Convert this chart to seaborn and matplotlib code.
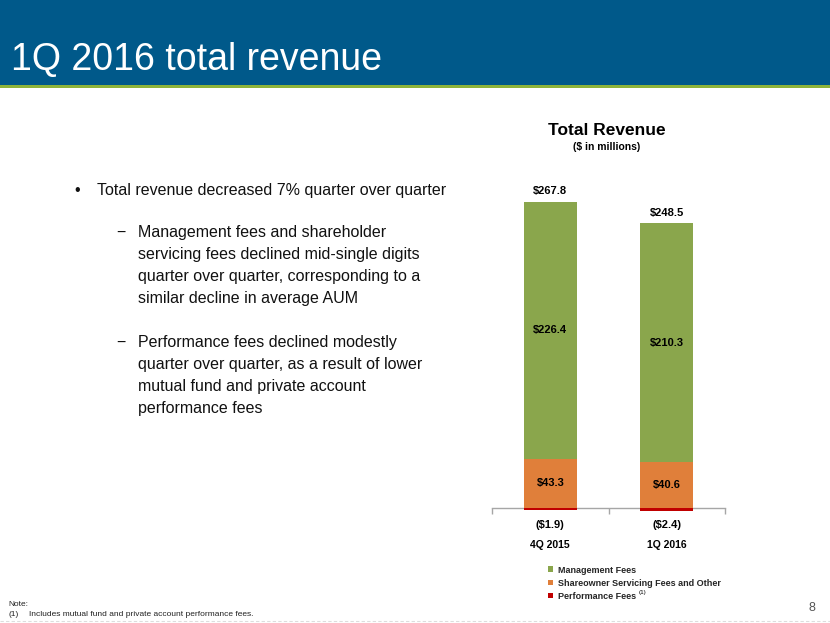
import matplotlib
matplotlib.use("Agg")
import matplotlib.pyplot as plt
import seaborn as sns
import pandas as pd
from matplotlib.patches import Rectangle, Patch

# ---- data ----
categories = ["4Q 2015", "1Q 2016"]
management_fees = [226.4, 210.3]
shareowner_fees = [43.3, 40.6]
performance_fees = [-1.9, -2.4]
totals = [267.8, 248.5]
mgmt_labels = ["$226.4", "$210.3"]
share_labels = ["$43.3", "$40.6"]
perf_labels = ["($1.9)", "($2.4)"]
total_labels = ["$267.8", "$248.5"]
legend_labels = ["Management Fees", "Shareowner Servicing Fees and Other",
                 "Performance Fees"]

GREEN = "#8AA64C"
ORANGE = "#E07F3A"
RED = "#C00000"
HEADER = "#00598A"

sns.set_theme(style="white")
plt.rcParams['font.family'] = ['Liberation Sans', 'DejaVu Sans']

W, H = 830, 623
fig = plt.figure(figsize=(W / 100, H / 100), dpi=100)
fig.patch.set_facecolor("white")

def fx(px):
    return px / W

def fy(py):
    return 1 - py / H

# header band
fig.patches.append(Rectangle((0, fy(85)), 1, 1 - fy(85), transform=fig.transFigure,
                             facecolor=HEADER, edgecolor="none", zorder=0))
fig.patches.append(Rectangle((0, fy(88)), 1, fy(85) - fy(88), transform=fig.transFigure,
                             facecolor="#8DB33A", edgecolor="none", zorder=0))
fig.text(fx(11), fy(70), "1Q 2016 total revenue", color="white", fontsize=27,
         va="baseline", ha="left")

# bullet text
fs = 11.5
fig.text(fx(74), fy(195), "•", fontsize=fs, va="baseline", color="#111111")
fig.text(fx(97), fy(195), "Total revenue decreased 7% quarter over quarter",
         fontsize=fs, va="baseline", color="#111111")
sub1 = ["Management fees and shareholder", "servicing fees declined mid-single digits",
        "quarter over quarter, corresponding to a", "similar decline in average AUM"]
sub2 = ["Performance fees declined modestly", "quarter over quarter, as a result of lower",
        "mutual fund and private account", "performance fees"]
for start, lines in [(237, sub1), (347, sub2)]:
    fig.text(fx(116), fy(start), "\u2212", fontsize=fs, va="baseline", color="#111111")
    for i, ln in enumerate(lines):
        fig.text(fx(138), fy(start + 22 * i), ln, fontsize=fs, va="baseline", color="#111111")

# chart title
fig.text(fx(607), fy(135), "Total Revenue", fontsize=12.5, fontweight="bold",
         ha="center", va="baseline", color="black")
fig.text(fx(607), fy(150), "($ in millions)", fontsize=7.5, fontweight="bold",
         ha="center", va="baseline", color="black")

# axes
scale = 1.135  # px per unit
ymin, ymax = -12, 290
ax_left, ax_right = 492, 725
bottom_px = 508 + (-ymin) * scale
height_px = (ymax - ymin) * scale
ax = fig.add_axes([fx(ax_left), fy(bottom_px), fx(ax_right - ax_left), height_px / H])
ax.set_facecolor("none")

df = pd.DataFrame({"cat": categories, "mgmt": management_fees,
                   "share": shareowner_fees, "perf": performance_fees})
bw = 53 / ((ax_right - ax_left) / 2)
sns.barplot(data=df, x="cat", y="share", color=ORANGE, saturation=1, width=bw, ax=ax,
            linewidth=0)
sns.barplot(data=df, x="cat", y="mgmt", bottom=df["share"], color=GREEN, saturation=1,
            width=bw, ax=ax, linewidth=0)
sns.barplot(data=df, x="cat", y="perf", color=RED, saturation=1, width=bw, ax=ax,
            linewidth=0, zorder=3)

ax.set_xlim(-0.5, 1.5)
ax.set_ylim(ymin, ymax)
for s in ["top", "right", "left"]:
    ax.spines[s].set_visible(False)
ax.spines["bottom"].set_position(("data", 0))
ax.spines["bottom"].set_color("#A6A6A6")
ax.spines["bottom"].set_linewidth(1)
ax.spines["bottom"].set_zorder(0.5)
ax.set_xticks([-0.5, 0.5, 1.5])
ax.set_xticklabels([])
ax.tick_params(axis="x", direction="out", length=4, color="#A6A6A6", width=1, bottom=True)
ax.set_yticks([])
ax.set_xlabel("")
ax.set_ylabel("")

lab = dict(fontsize=8, fontweight="bold", ha="center", color="black")
for i in range(len(categories)):
    ax.text(i, shareowner_fees[i] + management_fees[i] / 2, mgmt_labels[i], va="center", **lab)
    ax.text(i, shareowner_fees[i] / 2, share_labels[i], va="center", **lab)
    ax.text(i, totals[i] + 7, total_labels[i], va="bottom", **lab)
    ax.annotate(perf_labels[i], (i, 0), xytext=(0, -12), textcoords="offset points",
                va="center", **lab)
    ax.annotate(categories[i], (i, 0), xytext=(0, -27), textcoords="offset points",
                va="center", fontsize=7.5, fontweight="bold", ha="center", color="black")

handles = [Patch(facecolor=c, edgecolor="none") for c in [GREEN, ORANGE, RED]]
leg = fig.legend(handles, legend_labels, loc="upper left", bbox_to_anchor=(fx(543), fy(561)),
                 frameon=False, prop={"size": 6.5, "weight": "bold"}, handlelength=0.6,
                 handleheight=0.6, handletextpad=0.6, labelspacing=0.45, borderpad=0)
fig.text(fx(639), fy(594), "(1)", fontsize=4.5, color="black", va="baseline")

# footer
fig.text(fx(8), fy(606), "Note:", fontsize=6, color="#222222", va="baseline")
fig.text(fx(8), fy(616), "(1)", fontsize=6, color="#222222", va="baseline")
fig.text(fx(29), fy(616), "Includes mutual fund and private account performance fees.",
         fontsize=6, color="#222222", va="baseline")
fig.text(fx(808), fy(611), "8", fontsize=9, color="#555555", va="baseline")
fig.add_artist(plt.Line2D([0, 1], [fy(621), fy(621)], transform=fig.transFigure,
                          color="#DDDDDD", lw=0.8, ls=(0, (3, 2))))

fig.savefig("out.png", dpi=100, facecolor="white")
